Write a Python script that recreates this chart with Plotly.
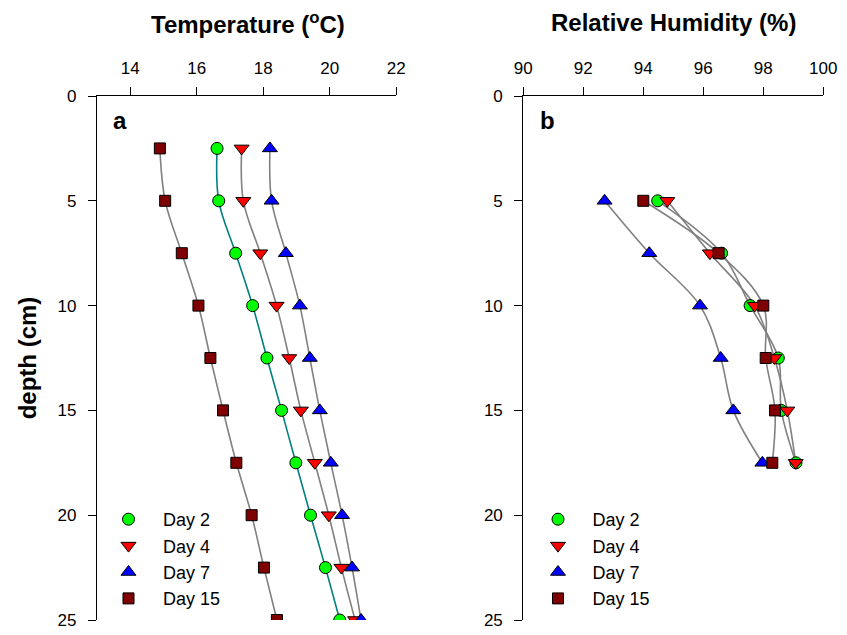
import plotly.graph_objects as go

# ---------------- data ----------------
depth_t = [2.5, 5, 7.5, 10, 12.5, 15, 17.5, 20, 22.5, 25]
temp_day2 = [16.61, 16.66, 17.17, 17.68, 18.11, 18.55, 18.98, 19.42, 19.87, 20.30]
temp_day4 = [17.35, 17.40, 17.91, 18.40, 18.78, 19.13, 19.55, 19.97, 20.35, 20.76]
temp_day7 = [18.20, 18.25, 18.68, 19.10, 19.40, 19.70, 20.03, 20.37, 20.67, 20.94]
temp_day15 = [14.89, 15.05, 15.55, 16.05, 16.41, 16.79, 17.19, 17.65, 18.02, 18.41]

depth_h = [5, 7.5, 10, 12.5, 15, 17.5]
rh_day2 = [94.48, 96.61, 97.56, 98.50, 98.60, 99.09]
rh_day4 = [94.80, 96.22, 97.71, 98.37, 98.80, 99.08]
rh_day7 = [92.71, 94.20, 95.89, 96.58, 97.00, 97.97]
rh_day15 = [94.00, 96.51, 98.00, 98.08, 98.39, 98.30]

labels = ["Day 2", "Day 4", "Day 7", "Day 15"]
temp_ticks = [14, 16, 18, 20, 22]
rh_ticks = [90, 92, 94, 96, 98, 100]
depth_ticks = [0, 5, 10, 15, 20, 25]

# ---------------- styles ----------------
FONT = "Liberation Sans, Arial, sans-serif"
symbols = ["circle", "triangle-down", "triangle-up", "square"]
fills = ["#00FF00", "#FF0000", "#0000FF", "#7F0000"]
msize = [12, 13, 13, 11]

fig = go.Figure()

temp_series = [temp_day2, temp_day4, temp_day7, temp_day15]
rh_series = [rh_day2, rh_day4, rh_day7, rh_day15]
temp_line_cols = ["#008080", "#808080", "#808080", "#808080"]

# lines first (under all markers)
for i, s in enumerate(temp_series):
    fig.add_trace(go.Scatter(x=s, y=depth_t, mode="lines",
                             line=dict(color=temp_line_cols[i], width=1.6, shape="spline", smoothing=1),
                             xaxis="x", yaxis="y", showlegend=False, hoverinfo="skip"))
for i, s in enumerate(rh_series):
    fig.add_trace(go.Scatter(x=s, y=depth_h, mode="lines",
                             line=dict(color="#808080", width=1.6, shape="spline", smoothing=1),
                             xaxis="x2", yaxis="y2", showlegend=False, hoverinfo="skip"))

for i, s in enumerate(temp_series):
    fig.add_trace(go.Scatter(x=s, y=depth_t, mode="markers", name=labels[i],
                             marker=dict(symbol=symbols[i], size=msize[i], color=fills[i],
                                         line=dict(color="black", width=1)),
                             xaxis="x", yaxis="y", legend="legend"))
for i, s in enumerate(rh_series):
    fig.add_trace(go.Scatter(x=s, y=depth_h, mode="markers", name=labels[i],
                             marker=dict(symbol=symbols[i], size=msize[i], color=fills[i],
                                         line=dict(color="black", width=1)),
                             xaxis="x2", yaxis="y2", legend="legend2"))

ydom = [1 - 620 / 635, 1 - 96 / 635]
axis_common = dict(showgrid=False, zeroline=False, showline=True, linecolor="black", linewidth=1.2,
                   ticks="outside", ticklen=8, tickwidth=1.2, tickcolor="black", automargin=False,
                   tickfont=dict(family=FONT, size=17, color="black"))

fig.update_layout(
    width=847, height=635,
    margin=dict(l=0, r=0, t=0, b=0, autoexpand=False),
    paper_bgcolor="white", plot_bgcolor="white",
    font=dict(family=FONT, color="black"),
    xaxis=dict(domain=[97 / 847, 396.3 / 847], range=[13, 22], side="top", anchor="y",
               tickvals=temp_ticks, ticklabelstandoff=6, **axis_common),
    yaxis=dict(domain=ydom, range=[25, 0], anchor="x", tickvals=depth_ticks,
               ticklabelstandoff=8,
               title=dict(text="<b>depth (cm)</b>", font=dict(family=FONT, size=24), standoff=14),
               **axis_common),
    xaxis2=dict(domain=[523.3 / 847, 823.3 / 847], range=[90, 100], side="top", anchor="y2",
                tickvals=rh_ticks, ticklabelstandoff=6, **axis_common),
    yaxis2=dict(domain=ydom, range=[25, 0], anchor="x2", tickvals=depth_ticks,
                ticklabelstandoff=8, **axis_common),
    legend=dict(x=94 / 847, y=1 - 501 / 635, xanchor="left", yanchor="top",
                bgcolor="rgba(0,0,0,0)", font=dict(family=FONT, size=18), tracegroupgap=0,
                itemwidth=59),
    legend2=dict(x=523.5 / 847, y=1 - 501 / 635, xanchor="left", yanchor="top",
                 bgcolor="rgba(0,0,0,0)", font=dict(family=FONT, size=18), tracegroupgap=0,
                 itemwidth=59),
    annotations=[
        dict(text="<b>Temperature (<sup>o</sup>C)</b>", x=248 / 847, y=1 - 23 / 635,
             xanchor="center", yanchor="middle",
             xref="paper", yref="paper", showarrow=False, font=dict(family=FONT, size=24)),
        dict(text="<b>Relative Humidity (%)</b>", x=673 / 847, y=1 - 23 / 635,
             xanchor="center", yanchor="middle",
             xref="paper", yref="paper", showarrow=False, font=dict(family=FONT, size=24)),
        dict(text="<b>a</b>", x=120 / 847, y=1 - 120 / 635, xref="paper", yref="paper",
             xanchor="center", yanchor="middle",
             showarrow=False, font=dict(family=FONT, size=24)),
        dict(text="<b>b</b>", x=547 / 847, y=1 - 120 / 635, xref="paper", yref="paper",
             xanchor="center", yanchor="middle",
             showarrow=False, font=dict(family=FONT, size=24)),
    ],
)

fig.write_html("out.html")
